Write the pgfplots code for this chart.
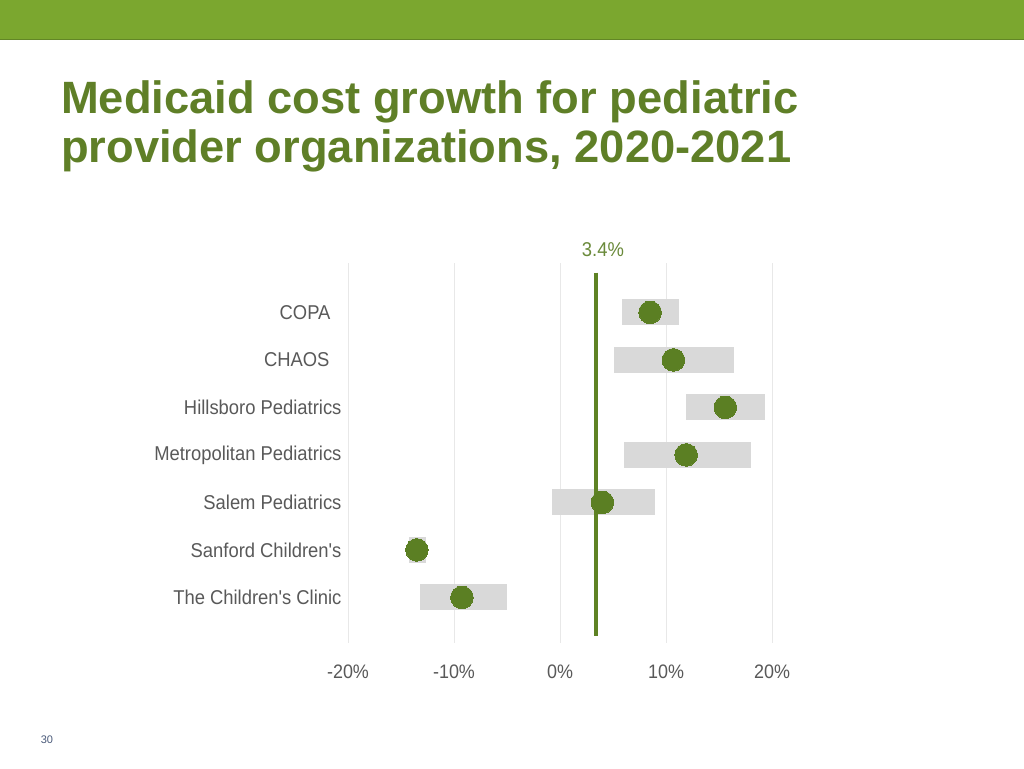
\documentclass[border=0pt]{standalone}
\usepackage{pgfplots}
\pgfplotsset{compat=1.18}
\usepackage{pgfplotstable}
\usepackage{fontspec}
\setmainfont{Liberation Sans}
\newfontfamily\labelfont[FakeStretch=0.92]{Liberation Sans}
\definecolor{topgreen}{HTML}{7BA72F}
\definecolor{titlegreen}{HTML}{5F7F27}
\definecolor{dotgreen}{HTML}{5B7F23}
\definecolor{linegreen}{HTML}{5E8224}
\definecolor{labelgreen}{HTML}{6A8A3A}
\definecolor{bargray}{HTML}{D9D9D9}
\definecolor{gridgray}{HTML}{E8E8E8}
\definecolor{tickgray}{HTML}{595959}
\definecolor{pagenum}{HTML}{4A5A7A}

\pgfplotstableread{
row lo hi dot
1 5.85 11.2 8.5
2 5.1 16.4 10.7
3 11.9 19.3 15.6
4 6.0 18.0 11.9
5 -0.75 8.95 4.0
6 -14.2 -12.6 -13.5
7 -13.2 -5.0 -9.25
}\datatable

\begin{document}
\begin{tikzpicture}[x=1pt,y=1pt]
\path[use as bounding box, fill=white] (0,0) rectangle (1024,-768);
\fill[topgreen] (0,0) rectangle (1024,-40);
\draw[color=topgreen!80!black, line width=1pt] (0,-40) -- (1024,-40);
\node[anchor=base west, inner sep=0pt, text=titlegreen, font=\fontsize{45.3}{50}\selectfont\bfseries] at (61,-113) {Medicaid cost growth for pediatric};
\node[anchor=base west, inner sep=0pt, text=titlegreen, font=\fontsize{45.3}{50}\selectfont\bfseries] at (61,-162) {provider organizations, 2020-2021};
\node[text=pagenum, font=\fontsize{11}{13}\selectfont] at (47,-740) {30};

\begin{axis}[
  at={(348pt,-263pt)}, anchor=north west,
  scale only axis, width=424pt, height=380pt,
  xmin=-20, xmax=20, ymin=-0.04, ymax=7.96, y dir=reverse,
  axis line style={draw=none},
  xtick={-20,-10,0,10,20},
  xticklabels={-20\%,-10\%,0\%,10\%,20\%},
  ytick={1,2,3,4,5,6,7},
  yticklabels={COPA\kern11pt,CHAOS\kern12pt,Hillsboro Pediatrics,Metropolitan Pediatrics,Salem Pediatrics,Sanford Children's,The Children's Clinic},
  xmajorgrids, ymajorgrids=false,
  major grid style={color=gridgray, line width=1pt},
  tick style={draw=none},
  xticklabel style={font=\labelfont\fontsize{19.5}{22}\selectfont, text=tickgray, yshift=-18pt},
  yticklabel style={font=\labelfont\fontsize{20}{22}\selectfont, text=tickgray, xshift=-3pt},
  clip=false,
]
\addplot[draw=none, mark=none,
  error bars/.cd, x dir=both, x explicit,
  error bar style={line width=26pt, color=bargray}, error mark=none]
  table[x expr={(\thisrow{lo}+\thisrow{hi})/2}, y=row,
        x error expr={(\thisrow{hi}-\thisrow{lo})/2}] {\datatable};
\addplot[linegreen, line width=4pt, mark=none] coordinates {(3.4,0.16) (3.4,7.82)};
\addplot[dotgreen, only marks, mark=*, mark size=11.3pt, mark options={draw=dotgreen, fill=dotgreen, line width=0pt}]
  table[x=dot, y=row] {\datatable};
\node[text=labelgreen, font=\labelfont\fontsize{20}{22}\selectfont] at (axis cs:4.05,-0.32) {3.4\%};
\end{axis}
\end{tikzpicture}
\end{document}
